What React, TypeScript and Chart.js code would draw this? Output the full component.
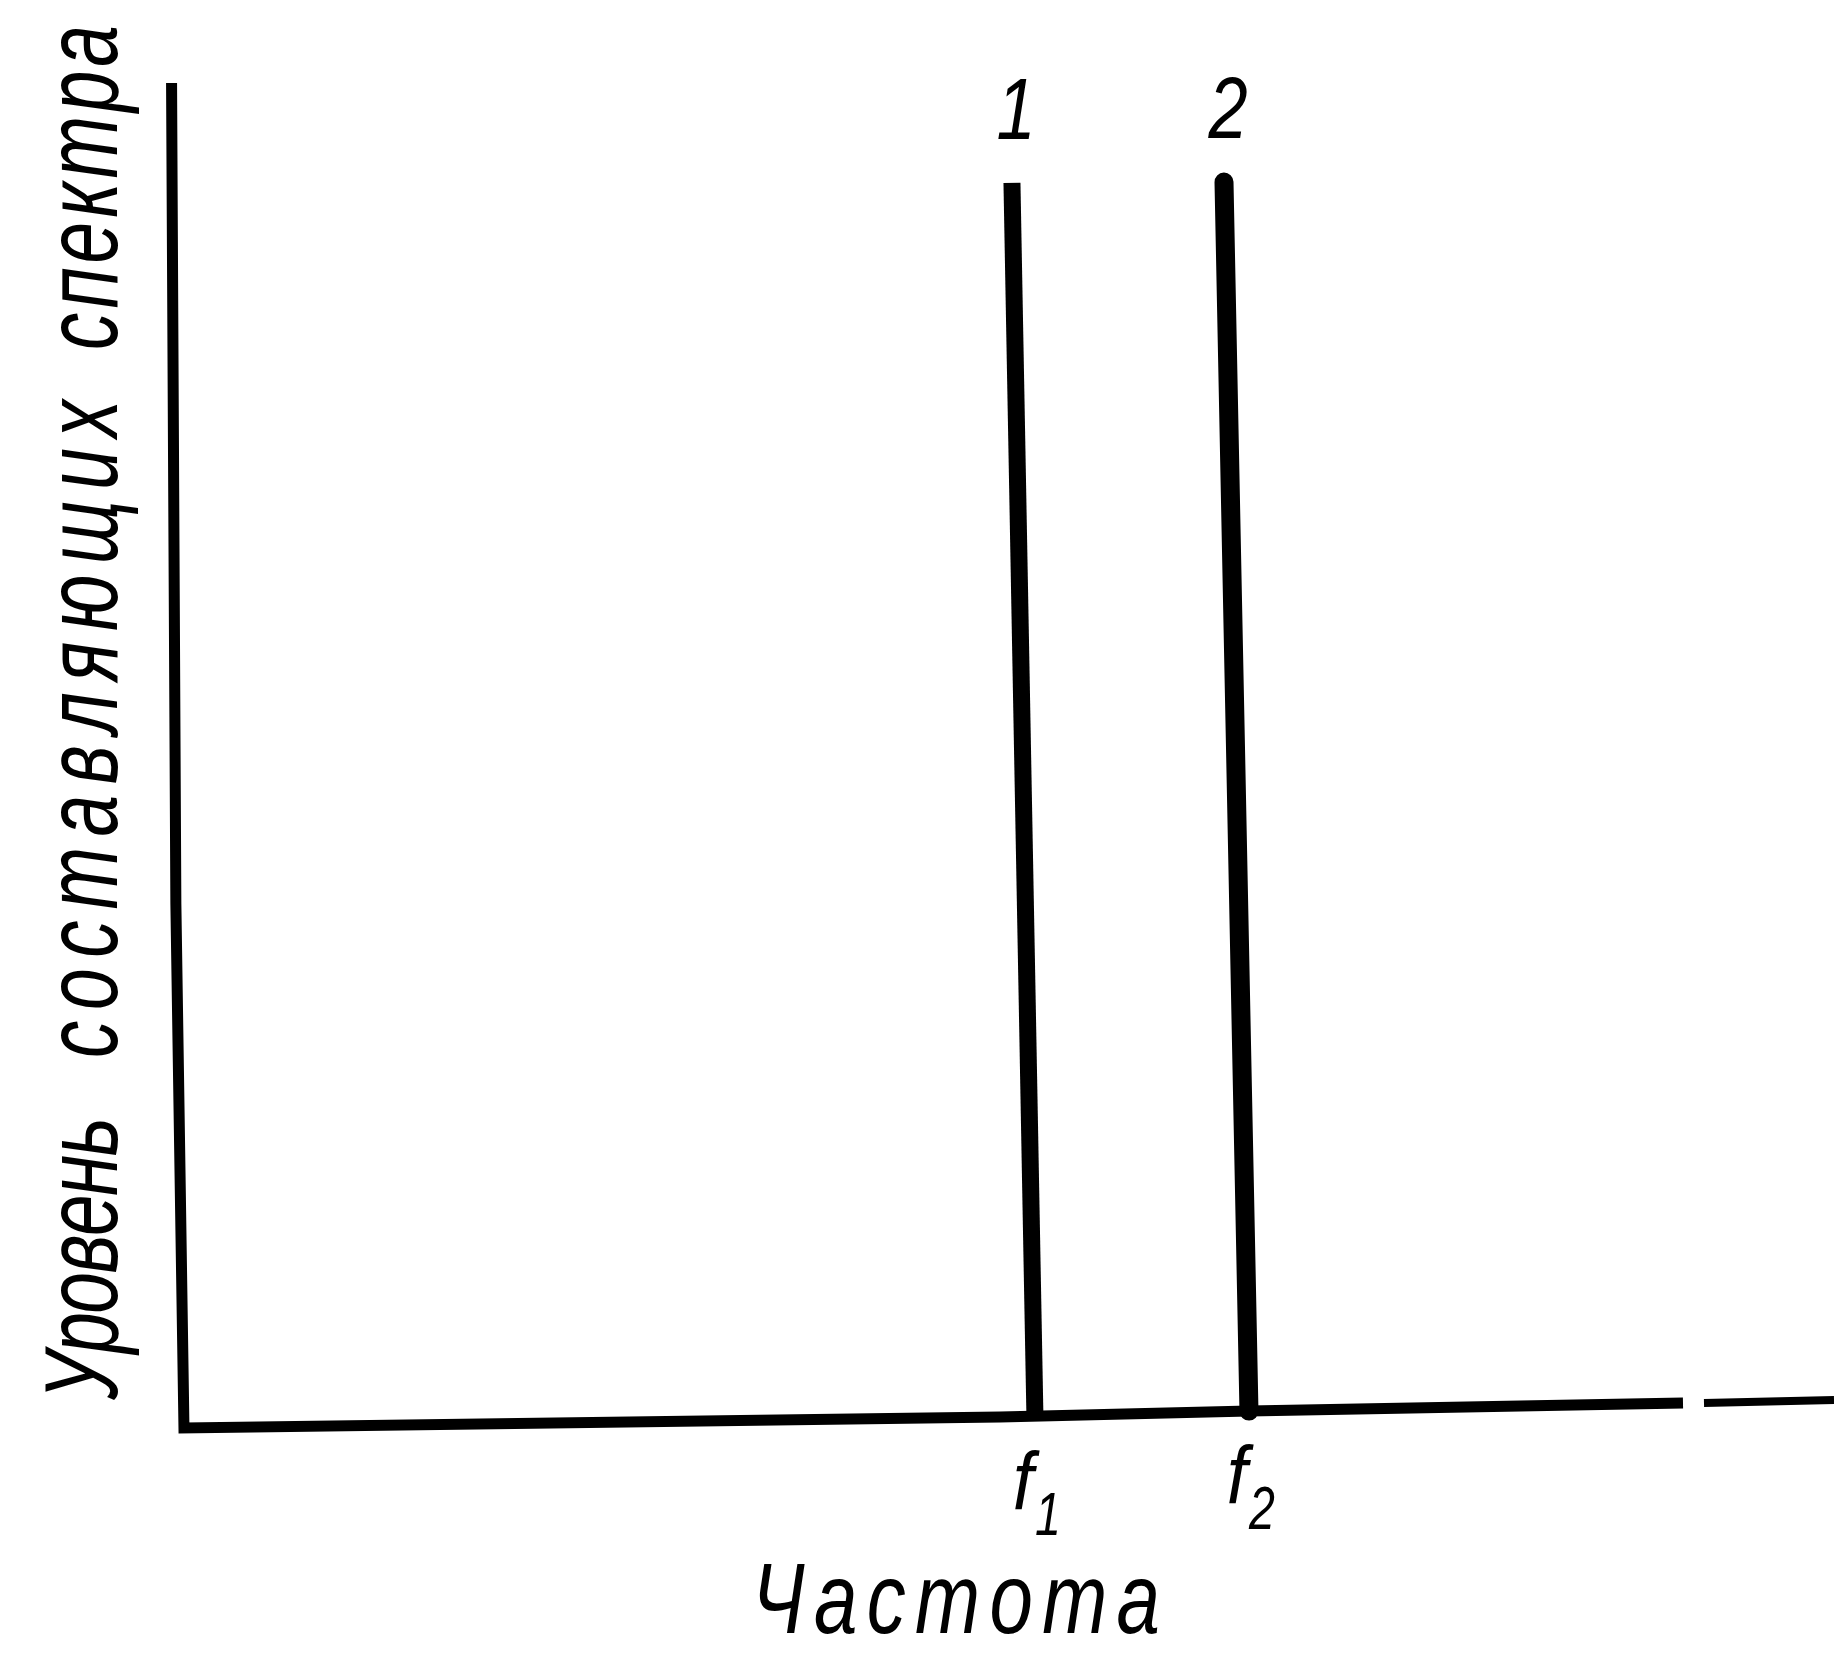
import React, { useEffect, useRef } from "react";
import { Chart, registerables } from "chart.js";

Chart.register(...registerables);

// ---- Data (frequency units, level units 0..100) ----
// Hand-drawn frame of the figure (y-axis down to the origin, then along the frequency axis)
const frameFreq = [-0.51, -0.25, 0.24, 49.58, 64.63, 90.87];
const frameLevel = [100, 39.0, 0, 0.82, 1.26, 1.86];
// Short piece of the frequency axis after the break in the drawn line
const frameTailFreq = [92.14, 100];
const frameTailLevel = [1.86, 2.08];

// Spectrum components (two discrete lines), top and base points
const componentNames = ["1", "2"];
const componentSub = ["1", "2"];
const lineTopFreq = [50.3, 63.12];
const lineTopLevel = [92.57, 92.64];
const lineBaseFreq = [51.69, 64.63];
const lineBaseLevel = [0.82, 1.26];

// Texts
const yTitleWords = ["Уровень", "составляющих", "спектра"];
const xTitle = "Частота";
const freqSymbol = "f";

const SANS = '"Liberation Sans", "DejaVu Sans", Arial, sans-serif';
const SERIF = '"Liberation Serif", "DejaVu Serif", serif';

function pts(xs: number[], ys: number[]) {
  return xs.map((x, i) => ({ x, y: ys[i] }));
}

function drawSpaced(
  ctx: CanvasRenderingContext2D,
  text: string,
  x0: number,
  x1: number,
  baseline: number,
  font: string,
  hScale: number
) {
  ctx.font = font;
  const chars = Array.from(text);
  const widths = chars.map((c) => ctx.measureText(c).width * hScale);
  const total = widths.reduce((a, b) => a + b, 0);
  const gap = chars.length > 1 ? (x1 - x0 - total) / (chars.length - 1) : 0;
  let x = x0;
  chars.forEach((c, i) => {
    ctx.save();
    ctx.translate(x, baseline);
    ctx.scale(hScale, 1);
    ctx.textAlign = "left";
    ctx.textBaseline = "alphabetic";
    ctx.fillText(c, 0, 0);
    ctx.restore();
    x += widths[i] + gap;
  });
}

function drawCentered(
  ctx: CanvasRenderingContext2D,
  text: string,
  cx: number,
  baseline: number,
  font: string,
  hScale: number
) {
  ctx.save();
  ctx.font = font;
  ctx.translate(cx, baseline);
  ctx.scale(hScale, 1);
  ctx.textAlign = "center";
  ctx.textBaseline = "alphabetic";
  ctx.fillText(text, 0, 0);
  ctx.restore();
}

const textPlugin = {
  id: "figureTexts",
  afterDraw(chart: any) {
    const ctx: CanvasRenderingContext2D = chart.ctx;
    const xs = chart.scales.x;
    const ys = chart.scales.y;
    ctx.save();
    ctx.fillStyle = "#000";

    // Component numbers above the lines
    componentNames.forEach((name, i) => {
      const px = xs.getPixelForValue(lineTopFreq[i]);
      const py = ys.getPixelForValue(lineTopLevel[i]);
      drawCentered(ctx, name, px + 4, py - 44, `italic 88px ${SANS}`, 0.8);
    });

    // f1, f2 under the lines
    componentSub.forEach((sub, i) => {
      const px = xs.getPixelForValue(lineBaseFreq[i]);
      const py = ys.getPixelForValue(lineBaseLevel[i]);
      drawCentered(ctx, freqSymbol, px - 12, py + 92, `italic 82px ${SANS}`, 0.9);
      drawCentered(ctx, sub, px + 13, py + 118, `italic 62px ${SANS}`, 0.75);
    });

    // X title
    drawSpaced(ctx, xTitle, 752, 1160, 1633, `italic 100px ${SANS}`, 0.78);

    // Y title (rotated, reading upward)
    ctx.save();
    ctx.translate(117, 0);
    ctx.rotate(-Math.PI / 2);
    const spans: [number, number][] = [
      [1400, 1117],
      [1058, 400],
      [350, 25],
    ];
    yTitleWords.forEach((w, i) => {
      drawSpaced(ctx, w, -spans[i][0], -spans[i][1], 0, `italic 104px ${SANS}`, 0.72);
    });
    ctx.restore();

    ctx.restore();
  },
};

export default function App() {
  const canvasRef = useRef<HTMLCanvasElement | null>(null);

  useEffect(() => {
    document.body.style.margin = "0";
    const canvas = canvasRef.current;
    if (!canvas) return;
    const common = {
      showLine: true,
      pointRadius: 0,
      pointHoverRadius: 0,
      borderColor: "#000",
      backgroundColor: "#000",
      tension: 0,
      clip: false as any,
      fill: false,
    };
    const chart = new Chart(canvas, {
      type: "scatter",
      data: {
        datasets: [
          {
            ...common,
            label: "frame",
            data: pts(frameFreq, frameLevel),
            borderWidth: 11,
            borderJoinStyle: "miter",
            borderCapStyle: "butt",
          },
          {
            ...common,
            label: "frameTail",
            data: pts(frameTailFreq, frameTailLevel),
            borderWidth: 8,
            borderCapStyle: "butt",
          },
          {
            ...common,
            label: componentNames[0],
            data: pts([lineTopFreq[0], lineBaseFreq[0]], [lineTopLevel[0], lineBaseLevel[0]]),
            borderWidth: 17,
            borderCapStyle: "butt",
          },
          {
            ...common,
            label: componentNames[1],
            data: pts([lineTopFreq[1], lineBaseFreq[1]], [lineTopLevel[1], lineBaseLevel[1]]),
            borderWidth: 19,
            borderCapStyle: "round",
          },
        ],
      },
      options: {
        responsive: false,
        animation: false,
        devicePixelRatio: 1,
        // x = -1 at 163.46px, x = 0 at 180px, x = 100 at 1834px
        layout: { padding: { left: 163.46, right: 0, top: 83, bottom: 232 } },
        plugins: {
          legend: { display: false },
          tooltip: { enabled: false },
          title: { display: false },
        },
        events: [],
        scales: {
          x: { type: "linear", min: -1, max: 100, display: false },
          y: { type: "linear", min: 0, max: 100, display: false },
        },
      },
      plugins: [textPlugin],
    });
    return () => chart.destroy();
  }, []);

  return (
    <div style={{ position: "absolute", left: 0, top: 0, width: 1834, height: 1660, background: "#fff" }}>
      <canvas ref={canvasRef} width={1834} height={1660} style={{ display: "block" }} />
    </div>
  );
}
